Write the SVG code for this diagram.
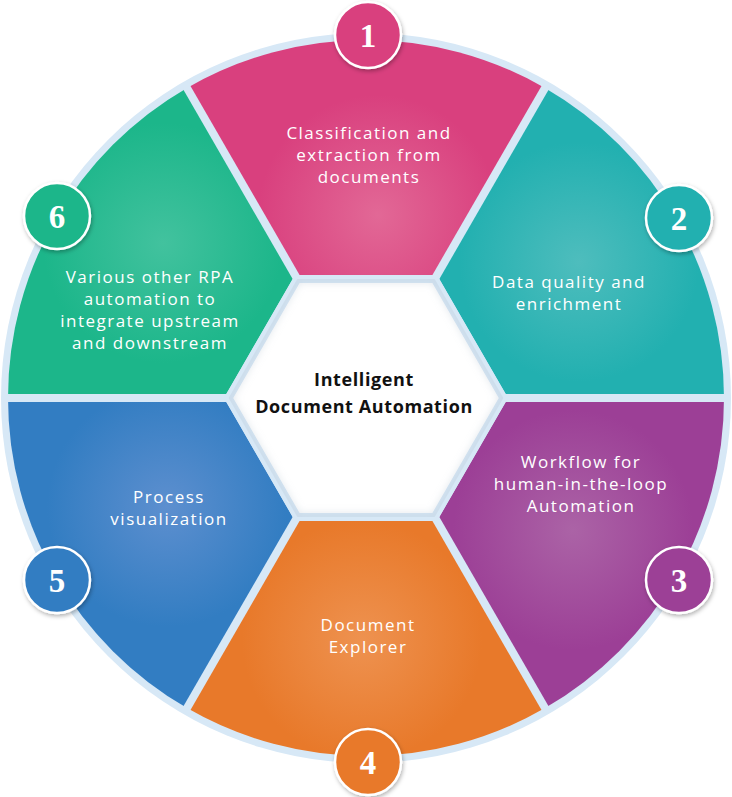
<svg xmlns="http://www.w3.org/2000/svg" width="732" height="797" viewBox="0 0 732 797">
<style>
.lbl{font-family:"Open Sans","Liberation Sans",sans-serif;font-size:17px;font-weight:500;fill:#ffffff;text-anchor:middle;letter-spacing:1.5px}
.num{font-family:"Liberation Serif","DejaVu Serif",serif;font-weight:bold;font-size:33px;fill:#ffffff;text-anchor:middle}
.badge{stroke:#ffffff;stroke-width:2.5;filter:url(#sh)}
.ctr{font-family:"Open Sans","Liberation Sans",sans-serif;font-weight:700;font-size:18px;fill:#111111;text-anchor:middle;letter-spacing:0.6px}
.spoke{stroke:#d7e8f6;stroke-width:8;fill:none}
</style>
<defs>
<filter id="sh" x="-30%" y="-30%" width="160%" height="160%">
<feDropShadow dx="1" dy="2" stdDeviation="2" flood-color="#000000" flood-opacity="0.3"/>
</filter>
<filter id="blur" x="-10%" y="-10%" width="120%" height="120%"><feGaussianBlur stdDeviation="4"/></filter>
<radialGradient id="g1" gradientUnits="userSpaceOnUse" cx="378" cy="215" r="120"><stop offset="0" stop-color="#e26896"/><stop offset="1" stop-color="#d9407e"/></radialGradient>
<radialGradient id="g2" gradientUnits="userSpaceOnUse" cx="579" cy="262" r="120"><stop offset="0" stop-color="#4ebdbd"/><stop offset="1" stop-color="#22b0b0"/></radialGradient>
<radialGradient id="g3" gradientUnits="userSpaceOnUse" cx="573" cy="530" r="120"><stop offset="0" stop-color="#ab63a6"/><stop offset="1" stop-color="#9c3f96"/></radialGradient>
<radialGradient id="g4" gradientUnits="userSpaceOnUse" cx="362" cy="640" r="120"><stop offset="0" stop-color="#ee9250"/><stop offset="1" stop-color="#e8792a"/></radialGradient>
<radialGradient id="g5" gradientUnits="userSpaceOnUse" cx="167" cy="507" r="120"><stop offset="0" stop-color="#5d8fcf"/><stop offset="1" stop-color="#327dc2"/></radialGradient>
<radialGradient id="g6" gradientUnits="userSpaceOnUse" cx="163" cy="243" r="120"><stop offset="0" stop-color="#42c29e"/><stop offset="1" stop-color="#1cb68a"/></radialGradient>
<clipPath id="hexclip"><polygon points="297.3,279 434.7,279 503.4,398 434.7,517 297.3,517 228.6,398"/></clipPath>
</defs>

<circle id="ring" cx="366" cy="398" r="365" fill="#d7e8f6"/>

<g id="node1">
<path d="M295,275.03 L187,87.96 A358,358 0 0 1 545,87.96 L437,275.03 Z" fill="url(#g1)"/>
<text class="lbl" x="369" y="139">Classification and</text>
<text class="lbl" x="369" y="161">extraction from</text>
<text class="lbl" x="369" y="183">documents</text>
</g>
<g id="node2">
<path d="M437,275.03 L545,87.96 A358,358 0 0 1 724,398 L508,398 Z" fill="url(#g2)"/>
<text class="lbl" x="569" y="288">Data quality and</text>
<text class="lbl" x="569" y="310">enrichment</text>
</g>
<g id="node3">
<path d="M508,398 L724,398 A358,358 0 0 1 545,708.04 L437,520.97 Z" fill="url(#g3)"/>
<text class="lbl" x="581" y="468">Workflow for</text>
<text class="lbl" x="581" y="490">human-in-the-loop</text>
<text class="lbl" x="581" y="512">Automation</text>
</g>
<g id="node4">
<path d="M437,520.97 L545,708.04 A358,358 0 0 1 187,708.04 L295,520.97 Z" fill="url(#g4)"/>
<text class="lbl" x="368" y="631">Document</text>
<text class="lbl" x="368" y="653">Explorer</text>
</g>
<g id="node5">
<path d="M295,520.97 L187,708.04 A358,358 0 0 1 8,398 L224,398 Z" fill="url(#g5)"/>
<text class="lbl" x="169" y="503">Process</text>
<text class="lbl" x="169" y="525">visualization</text>
</g>
<g id="node6">
<path d="M224,398 L8,398 A358,358 0 0 1 187,87.96 L295,275.03 Z" fill="url(#g6)"/>
<text class="lbl" x="150" y="283">Various other RPA</text>
<text class="lbl" x="150" y="305">automation to</text>
<text class="lbl" x="150" y="327">integrate upstream</text>
<text class="lbl" x="150" y="349">and downstream</text>
</g>

<g id="connectors">
<line class="spoke" x1="301" y1="285.4" x2="185" y2="84.5"/>
<line class="spoke" x1="431" y1="285.4" x2="547" y2="84.5"/>
<line class="spoke" x1="496" y1="398" x2="728" y2="398"/>
<line class="spoke" x1="431" y1="510.6" x2="547" y2="711.5"/>
<line class="spoke" x1="301" y1="510.6" x2="185" y2="711.5"/>
<line class="spoke" x1="236" y1="398" x2="4" y2="398"/>
</g>

<g id="center">
<polygon points="297.3,279 434.7,279 503.4,398 434.7,517 297.3,517 228.6,398" fill="#ffffff" stroke="#d7e8f6" stroke-width="8"/>
<g clip-path="url(#hexclip)">
<polygon points="297.3,279 434.7,279 503.4,398 434.7,517 297.3,517 228.6,398" fill="none" stroke="#aebccb" stroke-width="6" stroke-opacity="0.45" filter="url(#blur)"/>
</g>
<text class="ctr" x="364" y="386">Intelligent</text>
<text class="ctr" x="364" y="413">Document Automation</text>
</g>

<g id="badge1"><circle class="badge" cx="368" cy="35" r="33" fill="#d9407e"/><text class="num" x="368" y="47">1</text></g>
<g id="badge2"><circle class="badge" cx="679" cy="218" r="33" fill="#22b0b0"/><text class="num" x="679" y="230">2</text></g>
<g id="badge3"><circle class="badge" cx="679" cy="580" r="33" fill="#9c3f96"/><text class="num" x="679" y="592">3</text></g>
<g id="badge4"><circle class="badge" cx="368" cy="762" r="33" fill="#e8792a"/><text class="num" x="368" y="774">4</text></g>
<g id="badge5"><circle class="badge" cx="57" cy="580" r="33" fill="#327dc2"/><text class="num" x="57" y="592">5</text></g>
<g id="badge6"><circle class="badge" cx="57" cy="216" r="33" fill="#1cb68a"/><text class="num" x="57" y="228">6</text></g>
</svg>
